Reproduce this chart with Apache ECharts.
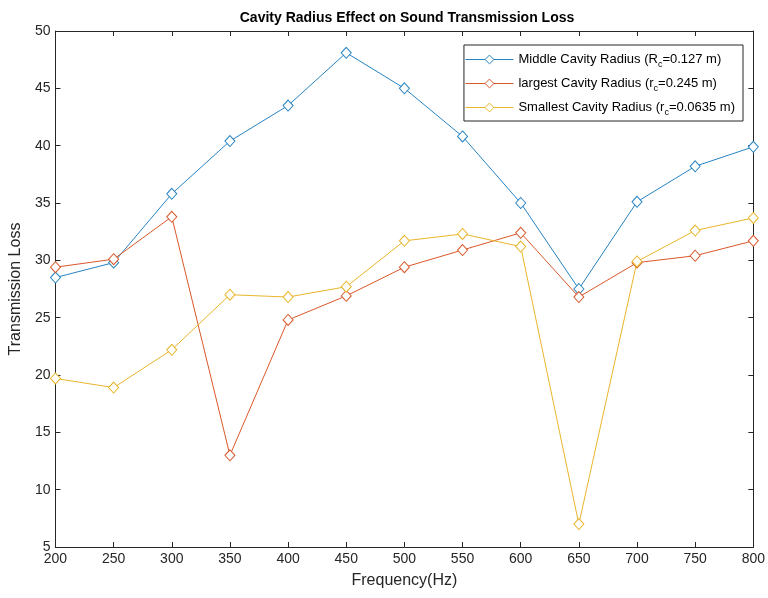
<!DOCTYPE html>
<html>
<head>
<meta charset="utf-8">
<script src="https://cdn.jsdelivr.net/npm/echarts@6/dist/echarts.min.js"></script>
<style>
  html, body { margin: 0; padding: 0; background: #fff; }
  #chart { width: 768px; height: 598px; }
</style>
</head>
<body>
<div id="chart"></div>
<script>
// Frequencies (Hz) and transmission loss for each cavity radius
var frequency = [200, 250, 300, 350, 400, 450, 500, 550, 600, 650, 700, 750, 800];
var middleRadius = [28.5, 29.8, 35.8, 40.4, 43.5, 48.1, 45.0, 40.8, 35.0, 27.5, 35.1, 38.2, 39.9];
var largestRadius = [29.4, 30.1, 33.8, 13.0, 24.8, 26.9, 29.4, 30.9, 32.4, 26.8, 29.8, 30.4, 31.7];
var smallestRadius = [19.7, 18.9, 22.2, 27.0, 26.8, 27.7, 31.7, 32.3, 31.2, 7.0, 29.9, 32.6, 33.7];

var seriesNames = [
  'Middle Cavity Radius',
  'largest Cavity Radius',
  'Smallest Cavity Radius'
];
// Legend text pieces: prefix, subscript letter, suffix
var legendParts = {
  'Middle Cavity Radius': ['Middle Cavity Radius (R', 'c', '=0.127 m)'],
  'largest Cavity Radius': ['largest Cavity Radius (r', 'c', '=0.245 m)'],
  'Smallest Cavity Radius': ['Smallest Cavity Radius (r', 'c', '=0.0635 m)']
};
var colors = ['#2683c2', '#d9582a', '#e8b52a'];

function pairs(values) {
  return frequency.map(function (f, i) { return [f, values[i]]; });
}

function makeSeries(name, values, color) {
  return {
    name: name,
    type: 'line',
    data: pairs(values),
    symbol: 'diamond',
    symbolSize: [10, 11],
    showAllSymbol: true,
    lineStyle: { color: color, width: 1 },
    itemStyle: { color: '#ffffff', borderColor: color, borderWidth: 1 },
    emphasis: { disabled: true },
    animation: false
  };
}

var axisColor = '#262626';
var fontFamily = '"Liberation Sans", Arial, Helvetica, sans-serif';

var chart = echarts.init(document.getElementById('chart'), null, { renderer: 'canvas' });

chart.setOption({
  backgroundColor: '#ffffff',
  color: colors,
  textStyle: { fontFamily: fontFamily },
  title: {
    text: 'Cavity Radius Effect on Sound Transmission Loss',
    left: 402,
    textAlign: 'center',
    top: 6,
    textStyle: { fontSize: 14, fontWeight: 'bold', color: '#000', fontFamily: fontFamily }
  },
  grid: { left: 54, right: 11, top: 31, bottom: 51, containLabel: false },
  legend: {
    orient: 'vertical',
    right: 25,
    top: 45,
    padding: [5, 8, 4, 1],
    itemGap: 5,
    itemWidth: 48,
    itemHeight: 11,
    backgroundColor: '#ffffff',
    borderColor: axisColor,
    borderWidth: 1,
    borderRadius: 0,
    data: seriesNames,
    lineStyle: { width: 1 },
    itemStyle: { color: '#ffffff', borderWidth: 1 },
    formatter: function (name) {
      var p = legendParts[name];
      return '{n|' + p[0] + '}{s|' + p[1] + '}{n|' + p[2] + '}';
    },
    textStyle: {
      color: '#000',
      fontFamily: fontFamily,
      rich: {
        n: { fontSize: 13, color: '#000', fontFamily: fontFamily, lineHeight: 17 },
        s: { fontSize: 9, color: '#000', fontFamily: fontFamily, lineHeight: 17, padding: [10, 0, 0, 0] }
      }
    }
  },
  xAxis: [
    {
      type: 'value',
      min: 200,
      max: 800,
      interval: 50,
      position: 'bottom',
      name: 'Frequency(Hz)',
      nameLocation: 'middle',
      nameGap: 26,
      nameTextStyle: { fontSize: 16, color: axisColor, fontFamily: fontFamily },
      axisLine: { show: true, onZero: false, lineStyle: { color: axisColor, width: 1 } },
      axisTick: { show: true, inside: true, length: 5, lineStyle: { color: axisColor } },
      axisLabel: { fontSize: 14, color: axisColor, margin: 5, fontFamily: fontFamily },
      splitLine: { show: false }
    },
    {
      type: 'value',
      min: 200,
      max: 800,
      interval: 50,
      position: 'top',
      axisLine: { show: true, onZero: false, lineStyle: { color: axisColor, width: 1 } },
      axisTick: { show: true, inside: true, length: 5, lineStyle: { color: axisColor } },
      axisLabel: { show: false },
      splitLine: { show: false }
    }
  ],
  yAxis: [
    {
      type: 'value',
      min: 5,
      max: 50,
      interval: 5,
      position: 'left',
      name: 'Transmission Loss',
      nameLocation: 'middle',
      nameGap: 26,
      nameTextStyle: { fontSize: 16, color: axisColor, fontFamily: fontFamily },
      axisLine: { show: true, onZero: false, lineStyle: { color: axisColor, width: 1 } },
      axisTick: { show: true, inside: true, length: 5, lineStyle: { color: axisColor } },
      axisLabel: { fontSize: 14, color: axisColor, margin: 5, fontFamily: fontFamily },
      splitLine: { show: false }
    },
    {
      type: 'value',
      min: 5,
      max: 50,
      interval: 5,
      position: 'right',
      axisLine: { show: true, onZero: false, lineStyle: { color: axisColor, width: 1 } },
      axisTick: { show: true, inside: true, length: 5, lineStyle: { color: axisColor } },
      axisLabel: { show: false },
      splitLine: { show: false }
    }
  ],
  series: [
    makeSeries(seriesNames[0], middleRadius, colors[0]),
    makeSeries(seriesNames[1], largestRadius, colors[1]),
    makeSeries(seriesNames[2], smallestRadius, colors[2])
  ]
});
</script>
</body>
</html>
